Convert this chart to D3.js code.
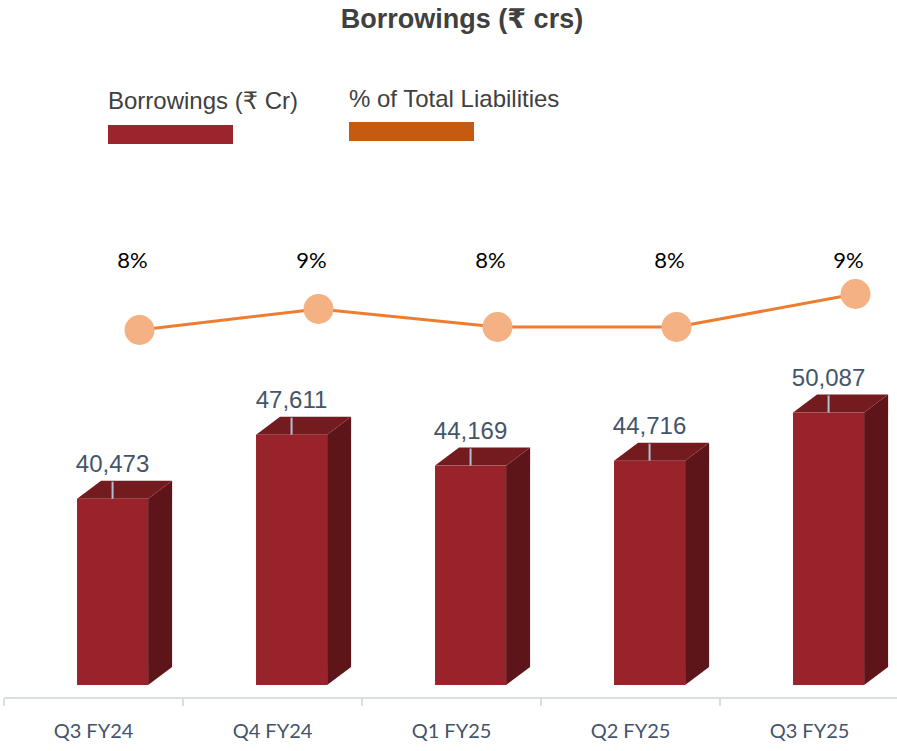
<!DOCTYPE html>
<html>
<head>
<meta charset="utf-8">
<script src="https://cdn.jsdelivr.net/npm/d3@7"></script>
<style>
  body { margin: 0; background: #fff; }
  svg { display: block; }
</style>
</head>
<body>
<div id="chart"></div>
<script>
const quarters = ["Q3 FY24", "Q4 FY24", "Q1 FY25", "Q2 FY25", "Q3 FY25"];
const borrowings = [40473, 47611, 44169, 44716, 50087];
const pctLiabilities = [7.8, 8.5, 7.9, 7.9, 9.0];

const width = 897, height = 751;
const svg = d3.select("#chart").append("svg")
    .attr("width", width)
    .attr("height", height);

const x = d3.scaleBand().domain(quarters).range([4, 899]).padding(0);
const y = d3.scaleLinear().domain([19700, 50000]).range([685, 413.3]);
const yPct = d3.scaleLinear().domain([7.8, 9.0]).range([330, 294]);

const bw = x.bandwidth();
const depthX = 24, depthY = -18;

// title
svg.append("text")
    .attr("x", 462).attr("y", 28)
    .attr("text-anchor", "middle")
    .attr("font-family", "Arial, 'Liberation Sans', 'DejaVu Sans', sans-serif")
    .attr("font-weight", "bold")
    .attr("font-size", 27)
    .attr("fill", "#404040")
    .text("Borrowings (₹ crs)");

// legend
const legend = [
    { label: "Borrowings (₹ Cr)", color: "#9b252c", x: 108, ty: 109, ry: 125 },
    { label: "% of Total Liabilities", color: "#c55a11", x: 349, ty: 107, ry: 122 }
];
legend.forEach(l => {
    svg.append("text")
        .attr("x", l.x).attr("y", l.ty)
        .attr("font-family", "Arial, 'Liberation Sans', 'DejaVu Sans', sans-serif")
        .attr("font-size", 24)
        .attr("fill", "#404040")
        .text(l.label);
    svg.append("rect")
        .attr("x", l.x).attr("y", l.ry)
        .attr("width", 125).attr("height", 19)
        .attr("fill", l.color);
});

// axis
const axisY = 698;
svg.append("line")
    .attr("x1", 4).attr("x2", 899)
    .attr("y1", axisY).attr("y2", axisY)
    .attr("stroke", "#d9dde6").attr("stroke-width", 2);
quarters.forEach(q => {
    svg.append("line")
        .attr("x1", x(q)).attr("x2", x(q))
        .attr("y1", axisY).attr("y2", axisY + 8)
        .attr("stroke", "#d9dde6").attr("stroke-width", 2);
});
svg.selectAll(".xlab")
    .data(quarters)
    .enter()
    .append("text")
    .attr("x", d => x(d) + bw / 2)
    .attr("y", 738)
    .attr("text-anchor", "middle")
    .attr("font-family", "Lato, 'Open Sans', sans-serif")
    .attr("font-size", 20)
    .attr("fill", "#44546a")
    .text(d => d);

// 3d bars
const bars = svg.selectAll(".bar")
    .data(quarters.map((q, i) => ({ q, v: borrowings[i] })))
    .enter()
    .append("g");

const fx0 = d => x(d.q) + bw * 0.408;
const fw = bw * 0.397;

// side
bars.append("path")
    .attr("d", d => {
        const x1 = fx0(d) + fw, top = y(d.v), bot = y.range()[0];
        return `M${x1},${top} L${x1 + depthX},${top + depthY} L${x1 + depthX},${bot + depthY} L${x1},${bot} Z`;
    })
    .attr("fill", "#5e1519");
// top
bars.append("path")
    .attr("d", d => {
        const x0 = fx0(d), x1 = x0 + fw, top = y(d.v);
        return `M${x0},${top} L${x0 + depthX},${top + depthY} L${x1 + depthX},${top + depthY} L${x1},${top} Z`;
    })
    .attr("fill", "#741b20");
// front
bars.append("rect")
    .attr("x", d => fx0(d))
    .attr("y", d => y(d.v))
    .attr("width", fw)
    .attr("height", d => y.range()[0] - y(d.v))
    .attr("fill", "#98232a");

// value labels with leader lines
const fmt = d3.format(",");
bars.append("line")
    .attr("x1", d => fx0(d) + fw / 2)
    .attr("x2", d => fx0(d) + fw / 2)
    .attr("y1", d => y(d.v) - 17)
    .attr("y2", d => y(d.v))
    .attr("stroke", "#b4c0d0").attr("stroke-width", 2);
bars.append("text")
    .attr("x", d => fx0(d) + fw / 2)
    .attr("y", d => y(d.v) - 27)
    .attr("text-anchor", "middle")
    .attr("font-family", "Arial, 'Liberation Sans', sans-serif")
    .attr("font-size", 24)
    .attr("fill", "#44546a")
    .text(d => fmt(d.v));

// percentage line
const px = d => x(d) + bw / 2 + 46;
const linePts = quarters.map((q, i) => [px(q), yPct(pctLiabilities[i])]);
svg.append("path")
    .attr("d", d3.line()(linePts))
    .attr("fill", "none")
    .attr("stroke", "#ed7d31")
    .attr("stroke-width", 3);
svg.selectAll(".dot")
    .data(linePts)
    .enter()
    .append("circle")
    .attr("cx", d => d[0]).attr("cy", d => d[1])
    .attr("r", 15)
    .attr("fill", "#f4b183");
svg.selectAll(".pct")
    .data(quarters.map((q, i) => ({ q, v: pctLiabilities[i] })))
    .enter()
    .append("text")
    .attr("x", d => px(d.q) - 7)
    .attr("y", 268)
    .attr("text-anchor", "middle")
    .attr("font-family", "Lato, 'Open Sans', sans-serif")
    .attr("font-size", 22)
    .attr("fill", "#000")
    .text(d => Math.round(d.v) + "%");
</script>
</body>
</html>
